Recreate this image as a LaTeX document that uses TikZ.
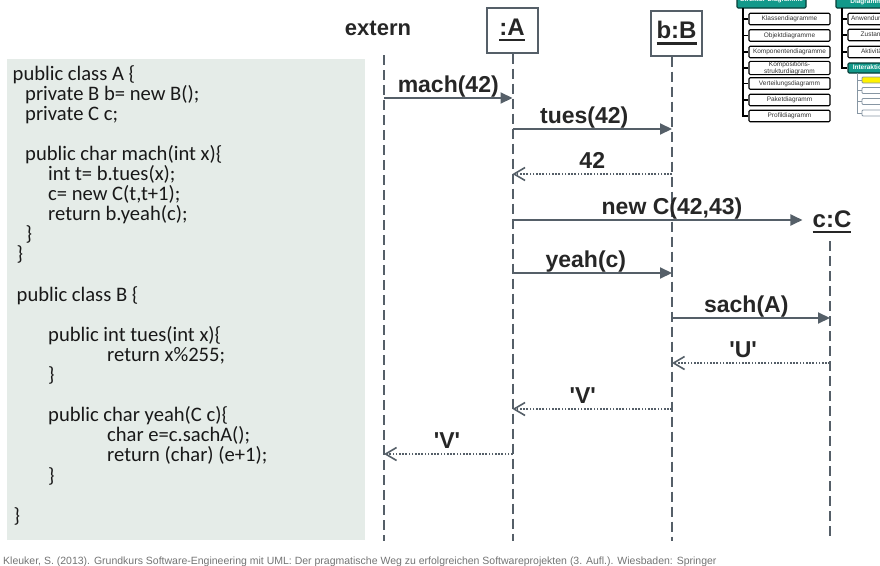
\documentclass[tikz,border=0pt]{standalone}
\usepackage{fontspec}
\setmainfont{Carlito}
\newfontfamily\arialfont{Liberation Sans}
\usetikzlibrary{arrows.meta,positioning}
\definecolor{linegray}{HTML}{555F68}
\definecolor{codebg}{HTML}{E5ECE8}
\definecolor{umlteal}{HTML}{12998A}
\definecolor{treegray}{HTML}{8796A3}
\newcommand{\headfont}{\arialfont\bfseries\fontsize{24}{28}\selectfont}
\newcommand{\msgfont}{\arialfont\bfseries\fontsize{23}{27}\selectfont}
\newcommand{\tinyfont}{\arialfont\fontsize{6.5}{6}\selectfont}
\newcommand{\objname}[1]{\vtop{\hbox{#1}\kern3pt\hrule height 2.5pt}}

\begin{document}
\begin{tikzpicture}[x=1pt,y=-1pt]
      \tikzstyle{obj}=[draw=linegray,line width=2pt,minimum width=51pt,
                       minimum height=45pt,inner sep=0pt,font=\headfont,text=black!85]
      \tikzstyle{lifeline}=[linegray,line width=2pt,dash pattern=on 10pt off 5pt]
      \tikzstyle{call}=[linegray,line width=2pt,-{Triangle[length=12pt,width=11pt]}]
      \tikzstyle{reply}=[linegray,line width=2pt,dash pattern=on 1.6pt off 1.6pt,
                         -{Straight Barb[length=11pt,width=13pt,line width=1.6pt]}]
      \tikzstyle{msg}=[anchor=base,yshift=6pt,font=\msgfont,text=black!85]
      \tikzstyle{code}=[anchor=north west,inner sep=0pt,align=left,text=black!90,
                        font=\fontsize{20.6}{20.1}\selectfont]
      \tikzstyle{umlbox}=[draw,line width=1.1pt,rounded corners=1.2pt,minimum width=81pt,
                          minimum height=11.5pt,inner sep=0pt,font=\tinyfont,text=black!80]
      \tikzstyle{umlhead}=[umlbox,fill=umlteal,draw=black!60!umlteal,text=white,
                           font=\tinyfont\bfseries]
      \tikzstyle{subbox}=[draw=treegray,line width=0.9pt,rounded corners=1pt,
                          minimum width=60pt,minimum height=6pt,inner sep=0pt]
      \useasboundingbox (0,0) rectangle (880,565);
      \clip (0,0) rectangle (880,565);

      \fill[codebg] (7,59) rectangle (365,540);
      \node[code] (quelltext) at (12.5,65) {public class A \{\\
        \hspace*{12.5pt}private B b= new B();\\
        \hspace*{12.5pt}private C c;\\
        \mbox{}\\
        \hspace*{12.5pt}public char mach(int x)\{\\
        \hspace*{35.5pt}int t= b.tues(x);\\
        \hspace*{35.5pt}c= new C(t,t+1);\\
        \hspace*{35.5pt}return b.yeah(c);\\
        \hspace*{13pt}\}\\
        \hspace*{4pt}\}\\
        \mbox{}\\
        \hspace*{4pt}public class B \{\\
        \mbox{}\\
        \hspace*{35.5pt}public int tues(int x)\{\\
        \hspace*{94.5pt}return x\%255;\\
        \hspace*{35.5pt}\}\\
        \mbox{}\\
        \hspace*{35.5pt}public char yeah(C c)\{\\
        \hspace*{94.5pt}char e=c.sachA();\\
        \hspace*{94.5pt}return (char) (e+1);\\
        \hspace*{35.5pt}\}\\
        \mbox{}\\
        \hspace*{1pt}\}};

      \node[font=\arialfont\bfseries\fontsize{22}{26}\selectfont,text=black!85]
            (extern) at (378,28) {extern};
      \node[obj] (A) at (512,30) {\objname{:A}};
      \node[obj] (B) at (676.5,33) {\objname{b:B}};
      \node[font=\headfont,text=black!85,inner sep=0pt] (C) at (832,222) {\objname{c:C}};

      \coordinate (Etop) at (384,55);
      \coordinate (Eend) at (384,541);
      \coordinate (Aend) at (512.5,541);
      \coordinate (Bend) at (672,541);
      \coordinate (Cend) at (830,541);
      \draw[lifeline] (Etop) -- (Eend);
      \draw[lifeline] (A.south -| Aend) -- (Aend);
      \draw[lifeline] (B.south -| Bend) -- (Bend);
      \draw[lifeline] ([yshift=-8pt]C.south -| Cend) -- (Cend);

      \draw[call] (Eend |- 0,98) -- node[msg] {mach(42)} (Aend |- 0,98);
      \draw[call] (Aend |- 0,129) -- node[msg,pos=0.45] {tues(42)} (Bend |- 0,129);
      \draw[reply] (Bend |- 0,174) -- node[msg,pos=0.5] {42} (Aend |- 0,174);
      \draw[call] (Aend |- 0,220) -- node[msg,pos=0.55] {new C(42,43)}
            ([xshift=-10pt]C.west |- 0,220);
      \draw[call] (Aend |- 0,273) -- node[msg,pos=0.46] {yeah(c)} (Bend |- 0,273);
      \draw[call] (Bend |- 0,318) -- node[msg,pos=0.47] {sach(A)} (Cend |- 0,318);
      \draw[reply] (Cend |- 0,363) -- node[msg,pos=0.55] {'U'} (Bend |- 0,363);
      \draw[reply] (Bend |- 0,409) -- node[msg,pos=0.56] {'V'} (Aend |- 0,409);
      \draw[reply] (Aend |- 0,454) -- node[msg,pos=0.51] {'V'} (Eend |- 0,454);

      \node[umlhead,minimum width=69pt,minimum height=16pt] (struktur) at (771.5,0)
            {Struktur-Diagramme};
      \node[umlbox] (klasse) at (789.5,19) {Klassendiagramme};
      \node[umlbox] (objekt) at (789.5,35.5) {Objektdiagramme};
      \node[umlbox] (kompo) at (789.5,52) {Komponentendiagramme};
      \node[umlbox,align=center] (kompos) at (789.5,68) {Kompositions-\\strukturdiagramm};
      \node[umlbox] (verteil) at (789.5,83.5) {Verteilungsdiagramm};
      \node[umlbox] (paket) at (789.5,100) {Paketdiagramm};
      \node[umlbox] (profil) at (789.5,116) {Profildiagramm};
      \coordinate (ltree) at (743,8);
      \draw[line width=1.3pt] (ltree) |- (profil.west);
      \draw[line width=1.3pt] (ltree |- klasse) -- (klasse.west);
      \draw[line width=1.3pt] (ltree |- objekt) -- (objekt.west);
      \draw[line width=1.3pt] (ltree |- kompo) -- (kompo.west);
      \draw[line width=1.3pt] (ltree |- kompos) -- (kompos.west);
      \draw[line width=1.3pt] (ltree |- verteil) -- (verteil.west);
      \draw[line width=1.3pt] (ltree |- paket) -- (paket.west);

      \node[umlhead,minimum width=64pt,minimum height=18pt,align=center] (verhalten)
            at (868,-1) {Verhaltens-\\Diagramme};
      \node[umlbox] (anwend) at (888.5,19) {Anwendungsfalldiagramm};
      \node[umlbox] (zustand) at (888.5,35) {Zustandsdiagramm};
      \node[umlbox] (aktiv) at (888.5,52) {Aktivitätsdiagramm};
      \node[umlhead,minimum height=10pt] (interakt) at (888.5,68) {Interaktionsdiagramme};
      \coordinate (rtree) at (842,8);
      \draw[line width=1.3pt] (rtree) |- (interakt.west);
      \draw[line width=1.3pt] (rtree |- anwend) -- (anwend.west);
      \draw[line width=1.3pt] (rtree |- zustand) -- (zustand.west);
      \draw[line width=1.3pt] (rtree |- aktiv) -- (aktiv.west);

      \node[subbox,fill=yellow] (sub1) at (892,80) {};
      \node[subbox] (sub2) at (892,90.5) {};
      \node[subbox] (sub3) at (892,101.5) {};
      \node[subbox] (sub4) at (892,113) {};
      \coordinate (stree) at (857,73);
      \draw[treegray,line width=0.9pt] (stree) |- (sub4.west);
      \draw[treegray,line width=0.9pt] (stree |- sub1) -- (sub1.west);
      \draw[treegray,line width=0.9pt] (stree |- sub2) -- (sub2.west);
      \draw[treegray,line width=0.9pt] (stree |- sub3) -- (sub3.west);

      \node[anchor=base west,inner sep=0pt,text=black!55,
            font=\arialfont\fontsize{10.5}{11}\selectfont] (quelle) at (3,564)
            {Kleuker, S. (2013). Grundkurs Software-Engineering mit UML: Der pragmatische Weg zu erfolgreichen Softwareprojekten (3. Aufl.). Wiesbaden: Springer};
\end{tikzpicture}
\end{document}
